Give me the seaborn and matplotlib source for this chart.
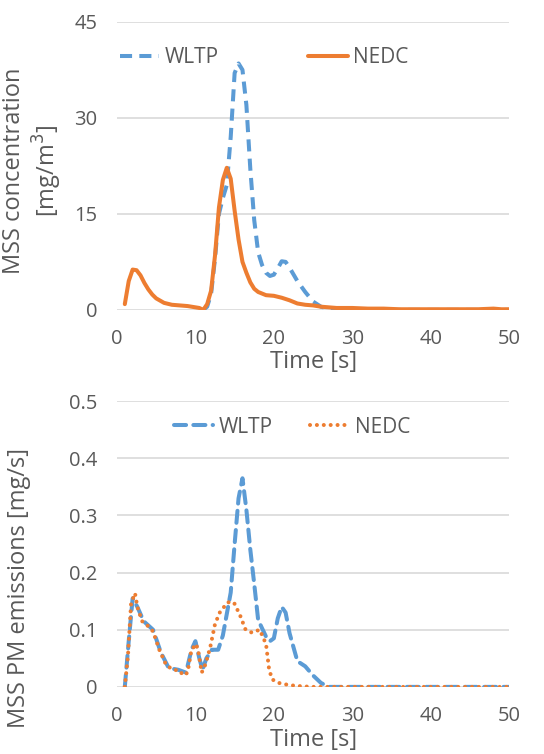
import matplotlib; matplotlib.use('Agg')
import numpy as np
import pandas as pd
import matplotlib.pyplot as plt
import seaborn as sns

# top panel: MSS concentration [mg/m3]
conc_wltp_t = [11, 11.5, 12, 12.5, 13, 13.5, 14, 14.5, 15, 15.5, 16, 16.5, 17, 17.5, 18, 18.5,
               19, 19.5, 20, 20.5, 21, 21.5, 22, 23, 24, 25, 26, 27, 28, 30, 35, 40, 45, 50]
conc_wltp = [0, 0.5, 2.5, 8, 15, 17.5, 19.5, 27, 37, 38.5, 37.5, 32, 22, 14, 9, 7,
             5.8, 5.3, 5.5, 6.5, 7.6, 7.5, 6.6, 4.5, 2.8, 1.3, 0.5, 0.2, 0, 0, 0, 0, 0, 0]

conc_nedc_t = [1, 1.5, 2, 2.5, 3, 3.5, 4, 4.5, 5, 6, 7, 8, 9, 10, 10.5, 11, 11.5, 12, 12.5,
               13, 13.5, 14, 14.5, 15, 15.5, 16, 16.5, 17, 17.5, 18, 19, 20, 21, 22, 23, 24,
               25, 26, 27, 28, 29, 30, 32, 34, 36, 38, 40, 42, 44, 46, 48, 49, 50]
conc_nedc = [0.9, 4.5, 6.3, 6.2, 5.4, 4.2, 3.2, 2.4, 1.8, 1.1, 0.8, 0.7, 0.6, 0.4, 0.3, 0.0, 0.9,
             3.0, 8.5, 16, 20.3, 22.2, 20.5, 15.5, 11, 7.5, 5.8, 4.3, 3.3, 2.8, 2.3, 2.2, 1.9,
             1.5, 1.0, 0.8, 0.7, 0.5, 0.4, 0.3, 0.3, 0.3, 0.2, 0.2, 0.1, 0.1, 0.1, 0.1, 0.1,
             0.1, 0.2, 0.1, 0.1]

# bottom panel: MSS PM emissions [mg/s]
pm_wltp_t = [1, 1.5, 2, 2.6, 3.4, 4.6, 5.6, 6.6, 7.8, 8.8, 9.5, 10, 10.5, 10.9, 11.4, 12.1,
             12.9, 13.5, 13.9, 14.5, 15, 15.5, 16, 16.5, 17, 17.5, 18, 19, 19.5, 20, 20.5, 21,
             21.5, 22, 23, 24, 25, 26, 27, 30, 35, 40, 45, 50]
pm_wltp = [0, 0.08, 0.155, 0.14, 0.115, 0.1, 0.06, 0.033, 0.03, 0.025, 0.065, 0.08, 0.05, 0.03,
           0.05, 0.065, 0.065, 0.09, 0.12, 0.165, 0.25, 0.33, 0.365, 0.31, 0.24, 0.18, 0.117,
           0.088, 0.08, 0.085, 0.12, 0.14, 0.13, 0.094, 0.045, 0.036, 0.02, 0.007, 0, 0, 0, 0, 0, 0]

pm_nedc_t = [1, 1.4, 1.8, 2.3, 2.6, 3.2, 4.0, 4.6, 5.4, 6.25, 7.1, 7.9, 8.5, 9.0, 9.5, 10.1,
             10.4, 10.8, 11.3, 11.9, 12.5, 13.1, 14.1, 14.9, 15.7, 16.4, 17.2, 18.2, 19.0, 19.4,
             19.8, 20.6, 22.0, 23.6, 25, 30, 35, 40, 45, 50]
pm_nedc = [0, 0.054, 0.146, 0.164, 0.14, 0.115, 0.106, 0.097, 0.065, 0.039, 0.03, 0.029, 0.02,
           0.025, 0.065, 0.075, 0.06, 0.025, 0.04, 0.07, 0.11, 0.13, 0.148, 0.148, 0.125, 0.1,
           0.095, 0.1, 0.075, 0.03, 0.013, 0.007, 0.003, 0.001, 0, 0, 0, 0, 0, 0]

BLUE = '#5B9BD5'
ORANGE = '#ED7D31'
GRAY = '#595959'

sns.set_style('white')
plt.rcParams['font.family'] = ['Open Sans', 'DejaVu Sans']

fig = plt.figure(figsize=(5.44, 7.54), dpi=100)
ax1 = fig.add_axes([0.215, 0.589, 0.721, 0.382])
ax2 = fig.add_axes([0.215, 0.089, 0.721, 0.379])

df1 = pd.concat([
    pd.DataFrame({'t': conc_wltp_t, 'v': conc_wltp, 'cycle': 'WLTP'}),
    pd.DataFrame({'t': conc_nedc_t, 'v': conc_nedc, 'cycle': 'NEDC'}),
])
df2 = pd.concat([
    pd.DataFrame({'t': pm_wltp_t, 'v': pm_wltp, 'cycle': 'WLTP'}),
    pd.DataFrame({'t': pm_nedc_t, 'v': pm_nedc, 'cycle': 'NEDC'}),
])

sns.lineplot(data=df1, x='t', y='v', hue='cycle', style='cycle',
             palette={'WLTP': BLUE, 'NEDC': ORANGE},
             dashes={'WLTP': (3, 1.8), 'NEDC': ''},
             linewidth=2.9, sort=False, ax=ax1, legend=False)
sns.lineplot(data=df2, x='t', y='v', hue='cycle', style='cycle',
             palette={'WLTP': BLUE, 'NEDC': ORANGE},
             dashes={'WLTP': (3, 1.8), 'NEDC': (0.01, 1.7)},
             linewidth=2.9, sort=False, ax=ax2, legend=False)
for ln in ax2.lines:
    ln.set_dash_capstyle('round')

for ax in (ax1, ax2):
    ax.set_xlim(0, 50)
    ax.set_xticks(range(0, 51, 10))
    ax.grid(axis='y', color='#D9D9D9', linewidth=1.2)
    ax.set_axisbelow(True)
    for s in ax.spines.values():
        s.set_visible(False)
    ax.tick_params(length=0, labelsize=14.5, labelcolor=GRAY)
    ax.tick_params(axis='y', pad=14)
    ax.tick_params(axis='x', pad=14)
    ax.set_xlabel('Time [s]', fontsize=17, color=GRAY)

ax1.set_ylim(0, 45)
ax1.set_yticks([0, 15, 30, 45])
ax1.set_ylabel('MSS concentration\n[mg/m$^3$]', fontsize=17, color=GRAY, linespacing=1.2)
ax1.yaxis.set_label_coords(-0.135, 0.483)
ax1.xaxis.set_label_coords(0.5, -0.14)

ax2.set_ylim(0, 0.5)
ax2.set_yticks([0, 0.1, 0.2, 0.3, 0.4, 0.5])
ax2.set_yticklabels(['0', '0.1', '0.2', '0.3', '0.4', '0.5'])
ax2.set_ylabel('MSS PM emissions [mg/s]', fontsize=17, color=GRAY)
ax2.yaxis.set_label_coords(-0.218, 0.346)
ax2.xaxis.set_label_coords(0.5, -0.145)

# legends
leg1 = ax1.legend(handles=ax1.lines[:2], labels=['WLTP', 'NEDC'], ncol=2, frameon=False,
                  loc='center', bbox_to_anchor=(0.375, 0.875), fontsize=15,
                  handlelength=1.9, handletextpad=0.25, columnspacing=4.3)
leg2 = ax2.legend(handles=ax2.lines[:2], labels=['WLTP', 'NEDC'], ncol=2, frameon=False,
                  loc='center', bbox_to_anchor=(0.446, 0.909), fontsize=15,
                  handlelength=1.9, handletextpad=0.25, columnspacing=1.8)
for leg in (leg1, leg2):
    for t in leg.get_texts():
        t.set_color(GRAY)

fig.savefig('out.png', dpi=100)
